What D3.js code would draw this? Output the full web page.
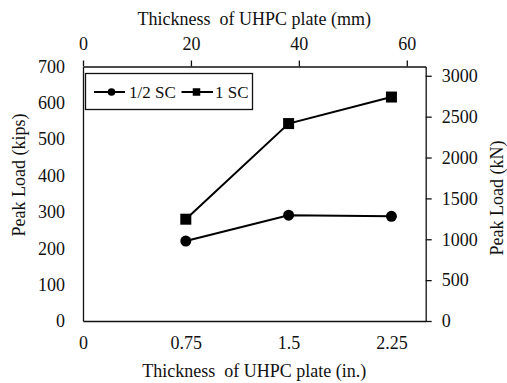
<!DOCTYPE html>
<html>
<head>
<meta charset="utf-8">
<script src="https://cdn.jsdelivr.net/npm/d3@7/dist/d3.min.js"></script>
<style>
  html, body { margin: 0; padding: 0; background: #fff; }
</style>
</head>
<body>
<svg id="chart" width="507" height="383"></svg>
<script>
// Plate thickness (in.) and measured peak loads (kips)
const thicknessIn = [0.75, 1.5, 2.25];
const halfSC = [220, 291, 288];
const oneSC = [280, 543, 616];

const seriesNames = ["1/2 SC", "1 SC"];
const bottomTicks = [0, 0.75, 1.5, 2.25];
const topTicks = [0, 20, 40, 60];
const leftTicks = [0, 100, 200, 300, 400, 500, 600, 700];
const rightTicks = [0, 500, 1000, 1500, 2000, 2500, 3000];

const KIPS_TO_KN = 4.448;
const MM_PER_IN = 25.4;

const FONT = "'Liberation Serif'";
const plot = { left: 83, right: 425.7, top: 66.5, bottom: 321 };
const svg = d3.select("#chart");

const x = d3.scaleLinear().domain([0, 2.5]).range([plot.left, plot.right]);
const xTop = d3.scaleLinear().domain([0, 2.5 * MM_PER_IN]).range([plot.left, plot.right]);
const yL = d3.scaleLinear().domain([0, 700]).range([plot.bottom, plot.top]);
const yR = d3.scaleLinear().domain([0, 700 * KIPS_TO_KN]).range([plot.bottom, plot.top]);

const fs = 18;

function styleAxis(g) {
  g.attr("font-family", null).attr("font-size", null);
  g.select(".domain").attr("stroke", "#111").attr("stroke-width", 1.3);
  g.selectAll(".tick line").attr("stroke", "#111").attr("stroke-width", 1.3);
  g.selectAll(".tick text").attr("fill", "#111")
    .style("font-family", FONT).attr("font-size", fs);
}

// bottom axis (in.)
svg.append("g")
  .attr("transform", `translate(0,${plot.bottom})`)
  .call(d3.axisBottom(x).tickValues(bottomTicks).tickSize(0).tickPadding(15.5)
    .tickFormat(d => String(d)).tickSizeOuter(0))
  .call(styleAxis);

// top axis (mm)
svg.append("g")
  .attr("transform", `translate(0,${plot.top})`)
  .call(d3.axisTop(xTop).tickValues(topTicks).tickSize(6).tickPadding(10.5).tickSizeOuter(0))
  .call(styleAxis);

// left axis (kips)
svg.append("g")
  .attr("transform", `translate(${plot.left},0)`)
  .call(d3.axisLeft(yL).tickValues(leftTicks).tickSize(0).tickPadding(18).tickSizeOuter(0))
  .call(styleAxis);

// right axis (kN)
svg.append("g")
  .attr("transform", `translate(${plot.right},0)`)
  .call(d3.axisRight(yR).tickValues(rightTicks).tickSize(6).tickPadding(10)
    .tickFormat(d3.format("d")).tickSizeOuter(0))
  .call(styleAxis);

// axis titles
function title(sel) {
  return sel.style("font-family", FONT).attr("font-size", fs).attr("fill", "#111")
    .attr("text-anchor", "middle").attr("xml:space", "preserve");
}

svg.append("text").call(title)
  .attr("x", (plot.left + plot.right) / 2).attr("y", 25)
  .text("Thickness  of UHPC plate (mm)");

svg.append("text").call(title)
  .attr("x", (plot.left + plot.right) / 2).attr("y", 377)
  .text("Thickness  of UHPC plate (in.)");

svg.append("text").call(title)
  .attr("transform", `translate(25,175) rotate(-90)`)
  .text("Peak Load (kips)");

svg.append("text").call(title)
  .attr("transform", `translate(503,198) rotate(-90)`)
  .text("Peak Load (kN)");

// series
const line = d3.line().x(d => x(d[0])).y(d => yL(d[1]));
const halfPts = thicknessIn.map((t, i) => [t, halfSC[i]]);
const onePts = thicknessIn.map((t, i) => [t, oneSC[i]]);

svg.append("path").datum(halfPts).attr("d", line)
  .attr("fill", "none").attr("stroke", "#000").attr("stroke-width", 2);
svg.append("path").datum(onePts).attr("d", line)
  .attr("fill", "none").attr("stroke", "#000").attr("stroke-width", 2);

svg.selectAll("circle.m").data(halfPts).join("circle")
  .attr("class", "m")
  .attr("cx", d => x(d[0])).attr("cy", d => yL(d[1])).attr("r", 5.5).attr("fill", "#000");

const sq = 11;
svg.selectAll("rect.m").data(onePts).join("rect")
  .attr("class", "m")
  .attr("x", d => x(d[0]) - sq / 2).attr("y", d => yL(d[1]) - sq / 2)
  .attr("width", sq).attr("height", sq).attr("fill", "#000");

// legend
const lg = svg.append("g");
lg.append("rect").attr("x", 85.5).attr("y", 73.5).attr("width", 167).attr("height", 36)
  .attr("fill", "#fff").attr("stroke", "#111").attr("stroke-width", 1.3);
const ly = 92;
lg.append("line").attr("x1", 94).attr("x2", 125).attr("y1", ly).attr("y2", ly)
  .attr("stroke", "#000").attr("stroke-width", 2);
lg.append("circle").attr("cx", 111.5).attr("cy", ly).attr("r", 3.8).attr("fill", "#000");
lg.append("text").attr("x", 129).attr("y", ly + 6)
  .style("font-family", FONT).attr("font-size", 17).attr("fill", "#111").text(seriesNames[0]);
lg.append("line").attr("x1", 181.5).attr("x2", 213).attr("y1", ly).attr("y2", ly)
  .attr("stroke", "#000").attr("stroke-width", 2);
lg.append("rect").attr("x", 196.5 - 3.75).attr("y", ly - 3.75).attr("width", 7.5).attr("height", 7.5).attr("fill", "#000");
lg.append("text").attr("x", 215).attr("y", ly + 6)
  .style("font-family", FONT).attr("font-size", 17).attr("fill", "#111").text(seriesNames[1]);
</script>
</body>
</html>
